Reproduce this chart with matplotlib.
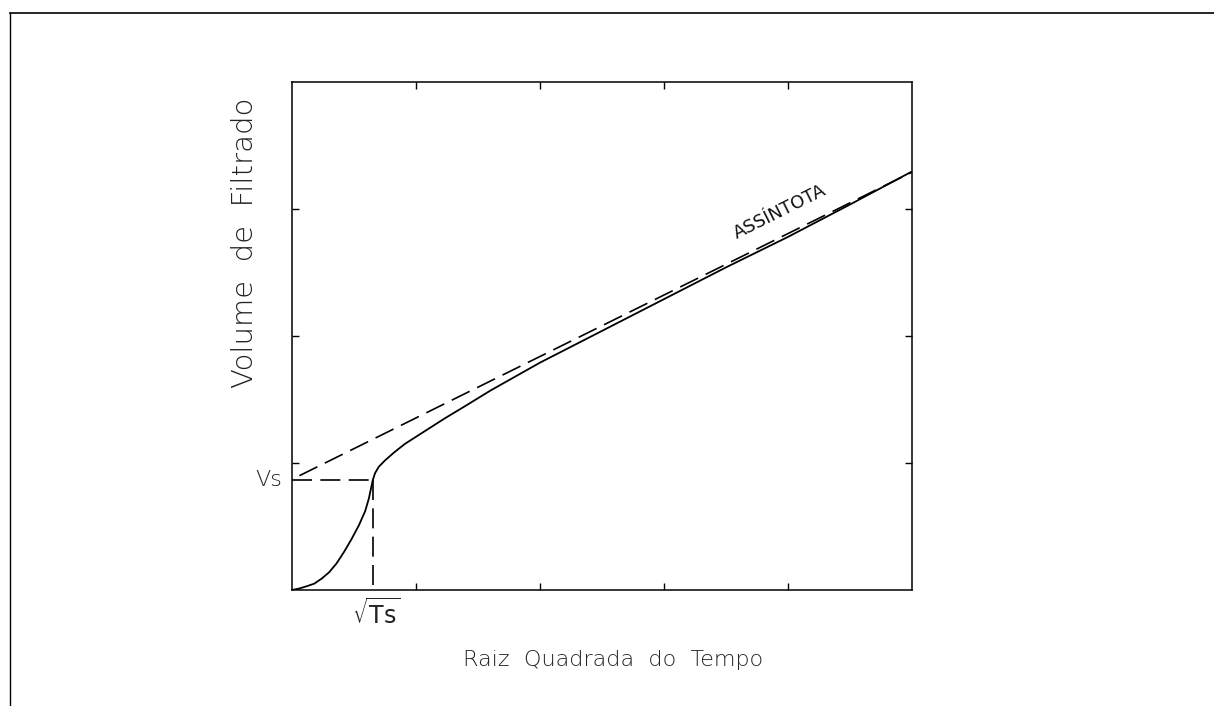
import matplotlib.pyplot as plt
from matplotlib.lines import Line2D

# filtrate volume vs sqrt(time): measured curve, read-off points
raiz_t = [0.0, 0.06, 0.12, 0.18, 0.24, 0.30, 0.36, 0.42, 0.48, 0.54,
          0.59, 0.62, 0.652, 0.67, 0.70, 0.75, 0.82, 0.91, 1.07, 1.23,
          1.40, 1.60, 1.80, 2.00, 2.50, 3.00, 3.50, 4.00, 4.50, 4.99]
volume = [0.0, 0.012, 0.03, 0.05, 0.09, 0.14, 0.21, 0.30, 0.40, 0.51,
          0.62, 0.72, 0.866, 0.92, 0.97, 1.02, 1.08, 1.15, 1.25, 1.35,
          1.45, 1.57, 1.68, 1.79, 2.04, 2.29, 2.54, 2.78, 3.035, 3.29]

# straight asymptote of the late part of the curve
assintota_x = [0.06, 5.0]
assintota_y = [0.90, 3.29]

# spurt point (sqrt(Ts), Vs)
raiz_ts = 0.652
vs = 0.866

fig = plt.figure(figsize=(12.14, 7.06), dpi=100)
ax = fig.add_axes([0.2405, 0.1643, 0.5107, 0.7196])

ax.plot(raiz_t, volume, color='black', lw=1.3)
ax.plot(assintota_x, assintota_y, color='black', lw=1.2, dashes=(12, 5))
ax.plot([0, raiz_ts], [vs, vs], color='black', lw=1.2, dashes=(12, 5))
ax.plot([raiz_ts, raiz_ts], [vs, 0], color='black', lw=1.2, dashes=(12, 5))

ax.set_xlim(0, 5)
ax.set_ylim(0, 4)
ax.set_xticks([1, 2, 3, 4])
ax.set_yticks([1, 2, 3])
ax.tick_params(direction='in', length=5, width=1, top=True, right=True,
               labelbottom=False, labelleft=False)
for s in ax.spines.values():
    s.set_linewidth(1.1)

ax.text(0.518, -0.138, 'Raiz  Quadrada  do  Tempo', fontsize=16,
        fontweight='light', color='#222222', ha='center', va='center',
        transform=ax.transAxes)
ax.text(-0.076, 0.683, 'Volume  de  Filtrado', fontsize=21, rotation=90,
        fontweight='light', color='#222222', ha='center', va='center',
        transform=ax.transAxes)

ax.text(-0.19, vs, 'Vs', fontsize=16, ha='center', va='center',
        fontweight='light', color='#222222', clip_on=False)
ax.text(raiz_ts + 0.03, -0.19, r'$\sqrt{\mathrm{Ts}}$', fontsize=17,
        ha='center', va='center', color='#222222', clip_on=False)
ax.text(3.935, 2.98, 'ASSÍNTOTA', fontsize=13, rotation=26.5,
        ha='center', va='center', color='#111111')

# page frame (top and left edges)
fig.add_artist(Line2D([10 / 1214, 1], [1 - 13 / 706, 1 - 13 / 706],
                      color='black', lw=1.2, transform=fig.transFigure))
fig.add_artist(Line2D([10 / 1214, 10 / 1214], [0, 1 - 13 / 706],
                      color='black', lw=1.0, transform=fig.transFigure))

fig.savefig('out.png', dpi=100)
